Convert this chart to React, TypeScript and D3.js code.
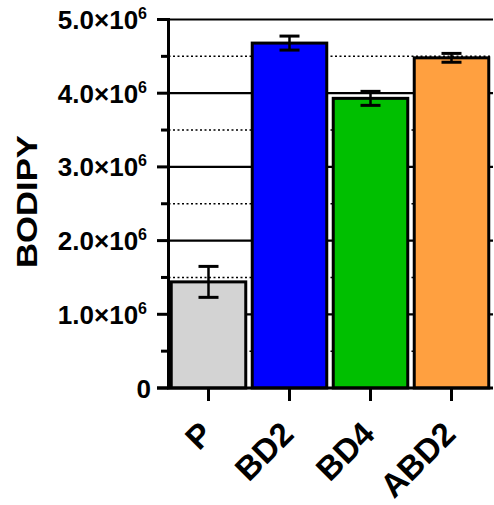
import React from "react";
import * as d3 from "d3";

const categories = ["P", "BD2", "BD4", "ABD2"];
const means = [1.44e6, 4.68e6, 3.93e6, 4.48e6];
const errors = [0.21e6, 0.095e6, 0.095e6, 0.06e6];
const colors = ["#D3D3D3", "#0000FF", "#00BF00", "#FFA040"];
const majorTicks = [0, 1e6, 2e6, 3e6, 4e6, 5e6];
const majorLabels = ["0", "1.0", "2.0", "3.0", "4.0", "5.0"];
const minorTicks = [0.5e6, 1.5e6, 2.5e6, 3.5e6, 4.5e6];
const yLabel = "BODIPY";

export default function App() {
  const W = 494, H = 505;
  const axisX = 168.5;
  const y = d3.scaleLinear().domain([0, 5e6]).range([388, 19.5]);
  const x = d3.scaleBand<string>().domain(categories).range([168, 492]).paddingInner(0.08).paddingOuter(0.04);
  const font = "'Liberation Sans', Arial, sans-serif";
  return (
    <svg width={W} height={H} style={{ position: "absolute", left: 0, top: 0, background: "#fff" }}>
      {/* dotted minor gridlines */}
      {minorTicks.map((t) => (
        <line key={"mg" + t} x1={axisX} x2={490} y1={y(t)} y2={y(t)} stroke="#000" strokeWidth={1.5} strokeDasharray="2 2.5" />
      ))}
      {/* solid major gridlines */}
      {majorTicks.filter((t) => t > 0).map((t) => (
        <line key={"Mg" + t} x1={axisX} x2={493} y1={y(t)} y2={y(t)} stroke="#000" strokeWidth={2.2} />
      ))}
      {/* bars */}
      {categories.map((c, i) => {
        const bx = x(c)!;
        const bw = x.bandwidth();
        return (
          <rect key={"b" + c} x={bx} y={y(means[i])} width={bw} height={y(0) - y(means[i])} fill={colors[i]} stroke="#000" strokeWidth={3} />
        );
      })}
      {/* error bars */}
      {categories.map((c, i) => {
        const cx = x(c)! + x.bandwidth() / 2;
        const hi = y(means[i] + errors[i]);
        const lo = y(means[i] - errors[i]);
        return (
          <g key={"e" + c} stroke="#000" strokeWidth={2.5}>
            <line x1={cx} x2={cx} y1={hi} y2={lo} />
            <line x1={cx - 10} x2={cx + 10} y1={hi} y2={hi} strokeWidth={3} />
            <line x1={cx - 10} x2={cx + 10} y1={lo} y2={lo} strokeWidth={3} />
          </g>
        );
      })}
      {/* y axis */}
      <line x1={axisX} x2={axisX} y1={y(5e6) - 1.5} y2={y(0) + 1.5} stroke="#000" strokeWidth={3} />
      {majorTicks.map((t) => (
        <line key={"t" + t} x1={157} x2={axisX} y1={y(t)} y2={y(t)} stroke="#000" strokeWidth={3} />
      ))}
      {minorTicks.map((t) => (
        <line key={"mt" + t} x1={161} x2={axisX} y1={y(t)} y2={y(t)} stroke="#000" strokeWidth={3} />
      ))}
      {/* x axis */}
      <line x1={157} x2={493} y1={y(0)} y2={y(0)} stroke="#000" strokeWidth={3} />
      {categories.map((c) => {
        const cx = x(c)! + x.bandwidth() / 2;
        return <line key={"xt" + c} x1={cx} x2={cx} y1={y(0)} y2={y(0) + 13} stroke="#000" strokeWidth={3} />;
      })}
      {/* y tick labels */}
      {majorTicks.map((t, i) => (
        <text key={"yl" + t} x={t === 0 ? 151 : 147} y={y(t) + 9.5} textAnchor="end" fontFamily={font} fontWeight="bold" fontSize={26} fill="#000">
          {t === 0 ? (
            "0"
          ) : (
            <>
              {majorLabels[i] + "×10"}
              <tspan fontSize={16} dy={-10}>6</tspan>
            </>
          )}
        </text>
      ))}
      {/* x tick labels */}
      {categories.map((c) => {
        const cx = x(c)! + x.bandwidth() / 2;
        return (
          <text key={"xl" + c} transform={`translate(${cx + 6},${436}) rotate(-45)`} textAnchor="end" fontFamily={font} fontWeight="bold" fontSize={33} fill="#000">
            {c}
          </text>
        );
      })}
      {/* y axis title */}
      <text transform={`translate(37,201.5) rotate(-90)`} textAnchor="middle" fontFamily={font} fontWeight="bold" fontSize={30} textLength={133} lengthAdjust="spacingAndGlyphs" fill="#000">
        {yLabel}
      </text>
    </svg>
  );
}
